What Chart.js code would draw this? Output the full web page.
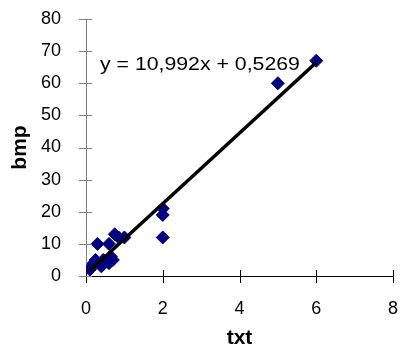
<!DOCTYPE html>
<html lang="en">
<head>
    <meta charset="UTF-8">
    <title>txt / bmp</title>
    <script src="https://cdn.jsdelivr.net/npm/chart.js@4/dist/chart.umd.min.js"></script>
    <style>
        html, body { margin: 0; padding: 0; background: #fff; }
        .box { width: 402px; height: 356px; }
    </style>
</head>
<body>
    <div class="box"><canvas id="miCanvas" width="402" height="356"></canvas></div>
    <script>
        // data
        const txt = [0.1, 0.15, 0.2, 0.25, 0.3, 0.4, 0.45, 0.6, 0.6, 0.65, 0.7, 0.75, 0.85, 1, 2, 2, 2, 5, 6];
        const bmp = [2, 3, 4, 5, 10, 3, 5, 4, 10, 6, 5, 13, 12, 12, 21, 19, 12, 60, 67];
        const xTicks = [0, 2, 4, 6, 8];
        const yTicks = [0, 10, 20, 30, 40, 50, 60, 70, 80];
        const slope = 10.992;
        const intercept = 0.5269;
        const equation = "y = 10,992x + 0,5269";

        const points = txt.map((v, i) => ({ x: v, y: bmp[i] }));
        const xMin = Math.min(...txt), xMax = Math.max(...txt);
        const trend = [
            { x: xMin, y: slope * xMin + intercept },
            { x: xMax, y: slope * xMax + intercept }
        ];

        const font = "'Liberation Sans', Arial, sans-serif";

        // ticks that cross the axis lines + the trendline label
        const extras = {
            id: 'extras',
            afterDraw(chart) {
                const ctx = chart.ctx;
                const xs = chart.scales.x, ys = chart.scales.y;
                const area = chart.chartArea;
                ctx.save();
                ctx.lineWidth = 1;
                ctx.strokeStyle = '#000';
                xTicks.forEach(t => {
                    const px = Math.round(xs.getPixelForValue(t)) + 0.5;
                    ctx.beginPath();
                    ctx.moveTo(px, area.bottom - 6);
                    ctx.lineTo(px, area.bottom + 7);
                    ctx.stroke();
                });
                ctx.strokeStyle = '#808080';
                yTicks.forEach(t => {
                    const py = Math.round(ys.getPixelForValue(t)) + 0.5;
                    ctx.beginPath();
                    ctx.moveTo(area.left - 7, py);
                    ctx.lineTo(area.left + 6, py);
                    ctx.stroke();
                });
                // equation, a little wider like the original
                ctx.fillStyle = '#000';
                ctx.font = '18.5px ' + font;
                ctx.textBaseline = 'alphabetic';
                ctx.translate(area.left + 14, area.top + 50.5);
                ctx.scale(1.15, 1);
                ctx.fillText(equation, 0, 0);
                ctx.restore();
            }
        };

        new Chart(document.getElementById('miCanvas'), {
            type: 'scatter',
            data: {
                datasets: [
                    {
                        label: 'trend',
                        type: 'line',
                        data: trend,
                        borderColor: '#000',
                        borderWidth: 3.5,
                        pointRadius: 0,
                        fill: false,
                        order: 0
                    },
                    {
                        label: 'bmp',
                        data: points,
                        pointStyle: 'rectRot',
                        pointRadius: 6.5,
                        backgroundColor: '#000080',
                        borderColor: '#000080',
                        borderWidth: 1,
                        order: 1
                    }
                ]
            },
            options: {
                responsive: false,
                animation: false,
                layout: { padding: { top: 19, right: 9, left: 0, bottom: 0 } },
                plugins: { legend: { display: false }, tooltip: { enabled: false } },
                scales: {
                    x: {
                        type: 'linear',
                        min: 0, max: 8,
                        afterBuildTicks: s => { s.ticks = xTicks.map(v => ({ value: v })); },
                        afterFit: s => { s.height = 80; s.paddingLeft = 0; s.paddingRight = 0; },
                        grid: { display: false },
                        border: { display: true, color: '#000', width: 1 },
                        ticks: { color: '#000', padding: 14, font: { family: font, size: 18 } },
                        title: {
                            display: true, text: 'txt', color: '#000',
                            font: { family: font, size: 21, weight: 'bold' },
                            padding: { top: 0, bottom: 5 }
                        }
                    },
                    y: {
                        type: 'linear',
                        min: 0, max: 80,
                        afterBuildTicks: s => { s.ticks = yTicks.map(v => ({ value: v })); },
                        afterFit: s => { s.width = 86; s.paddingTop = 0; s.paddingBottom = 0; },
                        grid: { display: false },
                        border: { display: true, color: '#808080', width: 1 },
                        ticks: { color: '#000', padding: 17, font: { family: font, size: 18 } },
                        title: {
                            display: true, text: 'bmp', color: '#000',
                            font: { family: font, size: 21, weight: 'bold' },
                            padding: { top: 8, bottom: 0 }
                        }
                    }
                }
            },
            plugins: [extras]
        });
    </script>
</body>
</html>
